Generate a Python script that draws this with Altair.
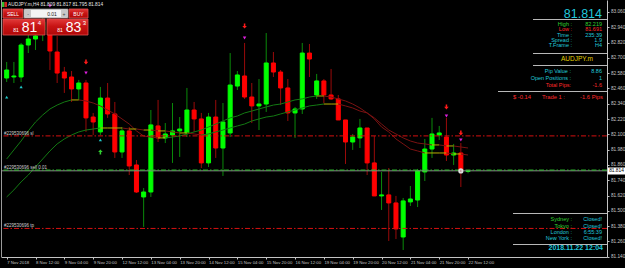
import altair as alt
import pandas as pd

# ---------------- data ----------------
bars = list(range(65))
opens = [82.542, 82.550, 82.550, 82.801, 82.848, 82.919, 82.958, 82.746, 82.589, 82.550,
         82.456, 82.503, 82.236, 82.119, 82.385, 82.260, 81.962, 82.127, 81.860, 81.609,
         81.648, 82.166, 82.072, 82.095, 82.127, 82.111, 82.291, 82.221, 81.876, 82.236,
         81.993, 82.111, 82.479, 82.558, 82.393, 82.323, 82.338, 82.660, 82.589, 82.464,
         82.268, 82.299, 82.738, 82.409, 82.519, 82.409, 82.378, 82.213, 82.040, 82.072,
         82.150, 81.876, 81.617, 81.625, 81.562, 81.295, 81.570, 81.585, 81.805, 81.985,
         82.095, 82.079, 81.938, 81.954, 81.809]
highs = [82.668, 82.668, 82.817, 82.879, 82.919, 83.013, 83.013, 82.872, 82.629, 82.597,
         82.527, 82.527, 82.268, 82.472, 82.503, 82.354, 82.158, 82.158, 81.899, 81.679,
         82.291, 82.370, 82.189, 82.346, 82.236, 82.464, 82.354, 82.268, 82.268, 82.370,
         82.346, 82.738, 82.597, 82.817, 82.503, 82.534, 82.895, 82.746, 82.605, 82.534,
         82.315, 82.817, 82.809, 82.574, 82.534, 82.613, 82.409, 82.213, 82.103, 82.221,
         82.150, 82.087, 81.805, 81.836, 81.617, 81.601, 81.695, 81.829, 82.064, 82.229,
         82.166, 82.229, 82.025, 82.032, 81.817]
lows = [82.511, 82.503, 82.511, 82.738, 82.762, 82.832, 82.605, 82.503, 82.425, 82.354,
        82.370, 82.119, 82.095, 82.095, 82.229, 81.915, 81.915, 81.781, 81.640, 81.374,
        81.609, 82.040, 82.032, 81.876, 81.923, 82.079, 82.119, 81.836, 81.844, 81.915,
        81.774, 82.079, 82.448, 82.378, 82.189, 82.134, 82.276, 82.550, 82.330, 82.205,
        82.072, 82.260, 82.550, 82.378, 82.346, 82.370, 82.213, 81.868, 81.978, 81.993,
        81.781, 81.617, 81.507, 81.264, 81.279, 81.193, 81.538, 81.530, 81.734, 81.915,
        82.056, 81.891, 81.860, 81.687, 81.795]
closes = [82.605, 82.558, 82.801, 82.848, 82.872, 82.981, 82.754, 82.581, 82.542, 82.456,
          82.503, 82.229, 82.197, 82.385, 82.260, 81.962, 82.127, 81.852, 81.648, 81.648,
          82.174, 82.072, 82.103, 82.127, 82.142, 82.291, 82.221, 81.876, 82.236, 81.993,
          82.197, 82.487, 82.566, 82.393, 82.323, 82.338, 82.660, 82.589, 82.464, 82.268,
          82.299, 82.738, 82.691, 82.519, 82.409, 82.378, 82.213, 82.040, 82.079, 82.150,
          81.876, 81.617, 81.625, 81.562, 81.358, 81.578, 81.593, 81.813, 81.985, 82.103,
          82.111, 81.938, 81.954, 81.813, 81.814]

ma_fast = [81.907, 81.978, 82.048, 82.127, 82.197, 82.252, 82.299, 82.330, 82.354, 82.370,
           82.370, 82.362, 82.346, 82.323, 82.291, 82.260, 82.221, 82.181, 82.127, 82.087,
           82.079, 82.072, 82.072, 82.079, 82.087, 82.103, 82.119, 82.134, 82.158, 82.181,
           82.205, 82.229, 82.244, 82.268, 82.283, 82.299, 82.315, 82.330, 82.338, 82.354,
           82.370, 82.378, 82.393, 82.401, 82.401, 82.393, 82.378, 82.362, 82.338, 82.307,
           82.268, 82.229, 82.181, 82.134, 82.103, 82.072, 82.048, 82.032, 82.025, 82.017,
           82.017, 82.009, 82.009, 82.001, 81.993]
ma_slow = [81.609, 81.664, 81.727, 81.781, 81.844, 81.907, 81.970, 82.025, 82.064, 82.095,
           82.119, 82.134, 82.142, 82.150, 82.150, 82.150, 82.150, 82.142, 82.142, 82.134,
           82.134, 82.127, 82.127, 82.119, 82.111, 82.111, 82.103, 82.095, 82.103, 82.119,
           82.134, 82.150, 82.166, 82.181, 82.205, 82.221, 82.236, 82.244, 82.260, 82.276,
           82.291, 82.307, 82.323, 82.330, 82.338, 82.338, 82.338, 82.323, 82.307, 82.283,
           82.268, 82.221, 82.158, 82.119, 82.064, 82.025, 81.985, 81.970, 81.954, 81.954,
           81.954, 81.954, 81.946, 81.946, 81.938]

x_tick_bars = list(range(0, 65, 4))
x_labels = ["7 Nov 2018", "8 Nov 12:00", "9 Nov 04:00", "9 Nov 20:00", "12 Nov 12:00",
            "13 Nov 04:00", "13 Nov 20:00", "14 Nov 12:00", "15 Nov 04:00", "15 Nov 20:00",
            "16 Nov 12:00", "19 Nov 04:00", "19 Nov 20:00", "20 Nov 12:00", "21 Nov 04:00",
            "21 Nov 20:00", "22 Nov 12:00"]
y_ticks = [83.060, 82.940, 82.820, 82.700, 82.580, 82.460, 82.340, 82.220, 82.100,
           81.980, 81.860, 81.740, 81.620, 81.500, 81.380, 81.260, 81.140]

sl_level = 82.088
open_level = 81.820
tp_level = 81.362
bid_level = 81.814

red_arrow_bars = [11, 33, 61, 63]
red_arrow_prices = [82.668, 82.950, 82.315, 82.111]
magenta_bars = [6, 11, 33, 61, 63]
magenta_prices = [83.107, 82.581, 82.856, 82.244, 82.056]
cyan_bars = [0, 2, 13]
cyan_prices = [82.393, 82.472, 82.056]
green_arrow_bars = [13]
green_arrow_prices = [81.962]

# ---------------- helpers ----------------
FONT = "Liberation Sans"
GRAY = "#c4c4c4"
xs = alt.Scale(domain=[-0.095, 82.58], zero=False, nice=False)
ys = alt.Scale(domain=[81.138, 83.154], zero=False, nice=False)

df = pd.DataFrame({"bar": bars, "open": opens, "high": highs, "low": lows, "close": closes})
df["dir"] = ["bull" if c >= o else "bear" for o, c in zip(opens, closes)]
df["top"] = df[["open", "close"]].max(axis=1)
df["bot"] = df[["open", "close"]].min(axis=1)

label_arr = "[" + ",".join("'%s'" % s for s in x_labels) + "]"
x_axis = alt.Axis(values=x_tick_bars, labelExpr=label_arr + "[round(datum.value/4)]",
                  labelAlign="left", labelBaseline="top", labelFontSize=4.3, labelFont=FONT,
                  labelColor=GRAY, tickColor=GRAY, tickSize=2, domainColor=GRAY, grid=False,
                  title=None, labelPadding=1.5, labelOverlap=False, labelFlush=False, labelBound=False)
y_axis = alt.Axis(orient="right", values=y_ticks, format=".3f", labelFontSize=4.7, labelFont=FONT,
                  labelColor=GRAY, tickColor=GRAY, tickSize=2, domainColor=GRAY, grid=False,
                  title=None, labelPadding=1.5, labelOverlap=False, labelFlush=False)


def X(field):
    return alt.X(field, type="quantitative", scale=xs, axis=x_axis)


def Y(field):
    return alt.Y(field, type="quantitative", scale=ys, axis=y_axis)


ONE = pd.DataFrame({"d": [0]})


def txt(x, y, s, color, size=5.5, align="left", bold=False, baseline="middle"):
    return alt.Chart(ONE).mark_text(text=s, align=align, baseline=baseline, color=color,
                                    fontSize=size, font=FONT,
                                    fontWeight="bold" if bold else "normal").encode(
        x=alt.value(x - 1), y=alt.value(y))


def box(x1, y1, x2, y2, fill, stroke=None):
    kw = {"color": fill}
    if stroke is not None:
        kw["stroke"] = stroke
        kw["strokeWidth"] = 0.8
    return alt.Chart(ONE).mark_rect(**kw).encode(
        x=alt.value(x1 - 1), x2=alt.value(x2 - 1), y=alt.value(y1), y2=alt.value(y2))


def hline(x1, x2, y, color="#b8b8b8"):
    return alt.Chart(ONE).mark_rule(color=color, strokeWidth=1).encode(
        x=alt.value(x1 - 1), x2=alt.value(x2 - 1), y=alt.value(y))


red_grad = alt.LinearGradient(gradient="linear", x1=0, x2=0, y1=0, y2=1,
                              stops=[alt.GradientStop(color="#e23a3a", offset=0),
                                     alt.GradientStop(color="#c81414", offset=0.45),
                                     alt.GradientStop(color="#b00808", offset=1)])

# ---------------- candles ----------------
BULL_BODY, BEAR_BODY = "#00ff00", "#ff0000"
BULL_WICK, BEAR_WICK = "#0a8a0a", "#9a0a0a"

wick_bull = alt.Chart(df).transform_filter("datum.dir=='bull'").mark_rule(
    color=BULL_WICK, strokeWidth=1).encode(x=X("bar"), y=Y("low"), y2="high:Q")
wick_bear = alt.Chart(df).transform_filter("datum.dir=='bear'").mark_rule(
    color=BEAR_WICK, strokeWidth=1).encode(x=X("bar"), y=Y("low"), y2="high:Q")
body_bull = alt.Chart(df).transform_filter("datum.dir=='bull'").mark_bar(
    size=4, color=BULL_BODY, stroke=BULL_BODY, strokeWidth=1).encode(
    x=X("bar"), y=Y("bot"), y2="top:Q")
body_bear = alt.Chart(df).transform_filter("datum.dir=='bear'").mark_bar(
    size=4, color=BEAR_BODY, stroke=BEAR_BODY, strokeWidth=1).encode(
    x=X("bar"), y=Y("bot"), y2="top:Q")

# ---------------- moving averages (colour by slope) ----------------
rows = []
for name, arr in (("fast", ma_fast), ("slow", ma_slow)):
    for i in range(len(arr) - 1):
        d = arr[i + 1] - arr[i]
        kind = "up" if d > 0.003 else ("down" if d < -0.003 else "flat")
        rows.append({"line": name, "i": bars[i], "v": arr[i], "i2": bars[i + 1],
                     "v2": arr[i + 1], "kind": kind})
seg = pd.DataFrame(rows)
ma = alt.Chart(seg).mark_rule(strokeWidth=1).encode(
    x=X("i"), x2="i2:Q", y=Y("v"), y2="v2:Q",
    color=alt.Color("kind:N", scale=alt.Scale(domain=["up", "down", "flat"],
                                              range=["#137a13", "#7a1212", "#b8b000"]),
                    legend=None))


# ---------------- order lines ----------------
def level(p, color, dash=None, width=1):
    kw = {"color": color, "strokeWidth": width}
    if dash:
        kw["strokeDash"] = dash
    return alt.Chart(pd.DataFrame({"p": [p]})).mark_rule(**kw).encode(y=Y("p"))


lines = [level(bid_level, "#8a8a8a"),
         level(open_level, "#2fbf2f", [5, 2, 1.5, 2]),
         level(sl_level, "#d41010", [5, 2, 1.5, 2]),
         level(tp_level, "#d41010", [5, 2, 1.5, 2])]

# ---------------- markers ----------------
DOWN_ARROW = "M-0.3,-1L0.3,-1L0.3,-0.05L0.9,-0.05L0,1L-0.9,-0.05L-0.3,-0.05Z"
UP_ARROW = "M-0.3,1L0.3,1L0.3,0.05L0.9,0.05L0,-1L-0.9,0.05L-0.3,0.05Z"


def pts(bx, py, shape, color, size, filled=True):
    return alt.Chart(pd.DataFrame({"b": bx, "p": py})).mark_point(
        shape=shape, color=color, filled=filled, size=size, opacity=1).encode(
        x=X("b"), y=Y("p"))


markers = [pts(red_arrow_bars, red_arrow_prices, DOWN_ARROW, "#ff1a1a", 26),
           pts(magenta_bars, magenta_prices, "triangle-down", "#e020e0", 12),
           pts(cyan_bars, cyan_prices, "triangle-up", "#20c8c8", 10),
           pts(green_arrow_bars, green_arrow_prices, UP_ARROW, "#30d030", 26),
           pts([63], [81.813], "circle", "#dddddd", 10, filled=False)]

# ---------------- overlays ----------------
ov = []
ov.append(alt.Chart(ONE).mark_rule(color="#9a9a9a").encode(
    x=alt.value(0.5), y=alt.value(0), y2=alt.value(257)))
ov += [txt(4, 133.5, "#229530696 sl", "#cfcfcf", 4.5),
       txt(4, 167.8, "#229530696 sell 0.01", "#cfcfcf", 4.5),
       txt(4, 226, "#229530696 tp", "#cfcfcf", 4.5)]
ov += [box(2, 2, 4.5, 7, "#30c030"), box(4.5, 2, 7, 7, "#d02020"),
       txt(8, 4.8, "AUDJPY.m,H4  81.809 81.817 81.795 81.814", "#e8e8e8", 4.8)]
ov += [box(3, 9, 23, 18, red_grad, "#e05050"), txt(13, 13.6, "SELL", "white", 5, "center"),
       box(24, 9, 68, 18, "#f4f4f4", "#808080"),
       box(25, 10, 31, 17, "#c8c8c8"), box(61, 10, 67, 17, "#c8c8c8"),
       txt(28, 13.5, "-", "#404040", 5, "center"), txt(64, 13.5, "+", "#404040", 5, "center"),
       txt(52, 13.6, "0.01", "#202020", 5, "center"),
       box(69, 9, 88, 18, red_grad, "#e05050"), txt(78.5, 13.6, "BUY", "white", 5, "center"),
       box(3, 19, 45, 35, red_grad, "#e05050"), box(47, 19, 88, 35, red_grad, "#e05050"),
       txt(16, 32, "81", "white", 5, "center", baseline="alphabetic"),
       txt(29.5, 32.3, "81", "white", 14, "center", baseline="alphabetic"),
       txt(39.5, 24.5, "4", "white", 6, "center", baseline="alphabetic"),
       txt(60, 32, "81", "white", 5, "center", baseline="alphabetic"),
       txt(73.5, 32.3, "83", "white", 14, "center", baseline="alphabetic"),
       txt(84.5, 24.5, "3", "white", 6, "center", baseline="alphabetic")]
CY = "#20c8dc"
GR = "#30d030"
RD = "#ff2a2a"
ov += [txt(602, 17.5, "81.814", CY, 12.5, "right", baseline="alphabetic"),
       hline(533, 607, 19.5),
       txt(572, 24, "High :", GR, 5.5, "right"), txt(602, 24, "82.219", GR, 5.5, "right"),
       txt(572, 29.3, "Low :", RD, 5.5, "right"), txt(602, 29.3, "81.691", RD, 5.5, "right"),
       txt(572, 34.6, "Time :", CY, 5.5, "right"), txt(602, 34.6, "235:39", CY, 5.5, "right"),
       txt(572, 39.9, "Spread :", CY, 5.5, "right"), txt(602, 39.9, "1.9", CY, 5.5, "right"),
       txt(572, 45.2, "T.Frame :", CY, 5.5, "right"), txt(602, 45.2, "H4", CY, 5.5, "right"),
       hline(533, 607, 53.5),
       txt(577, 59.3, "AUDJPY.m", "#e0d000", 6.5, "center"),
       hline(533, 607, 65.5),
       txt(571, 71, "Pip Value :", CY, 5.5, "right"), txt(602, 71, "8.86", CY, 5.5, "right"),
       txt(571, 78, "Open Positions :", CY, 5.5, "right"), txt(602, 78, "1", CY, 5.5, "right"),
       txt(571, 85, "Total Pips:", RD, 5.5, "right"), txt(602, 85, "-1.6", RD, 5.5, "right"),
       hline(498, 607, 91.5),
       txt(513, 97.3, "$ -0.14", RD, 5.8), txt(542, 97.3, "Trade 1 :", RD, 5.8),
       txt(603, 97.3, "-1.6 Pips", RD, 5.8, "right")]
ov += [hline(513, 607, 213.5),
       txt(572, 219.3, "Sydney :", GR, 5.5, "right"), txt(602, 219.3, "Closed!", CY, 5.5, "right"),
       txt(572, 225.7, "Tokyo :", GR, 5.5, "right"), txt(602, 225.7, "Closed!", CY, 5.5, "right"),
       txt(572, 232, "London :", CY, 5.5, "right"), txt(602, 232, "6:55:39", CY, 5.5, "right"),
       txt(572, 238.3, "New York :", CY, 5.5, "right"), txt(602, 238.3, "Closed!", CY, 5.5, "right"),
       hline(513, 607, 244.5),
       txt(603, 248, "2018.11.22 12:04", CY, 7, "right", bold=True)]
ov += [box(608, 167.5, 625, 174.5, "#ffffff"),
       txt(616.5, 171, "81.814", "#000000", 4.8, "center")]

chart = alt.layer(wick_bull, wick_bear, body_bull, body_bear, ma, *lines, *markers, *ov).properties(
    width=606, height=257, autosize="none",
    padding={"left": 1, "top": 0, "right": 18, "bottom": 11},
    background="#000000",
).configure_view(stroke=None)

chart.save("out.html", embed_options={"renderer": "svg", "actions": False})
